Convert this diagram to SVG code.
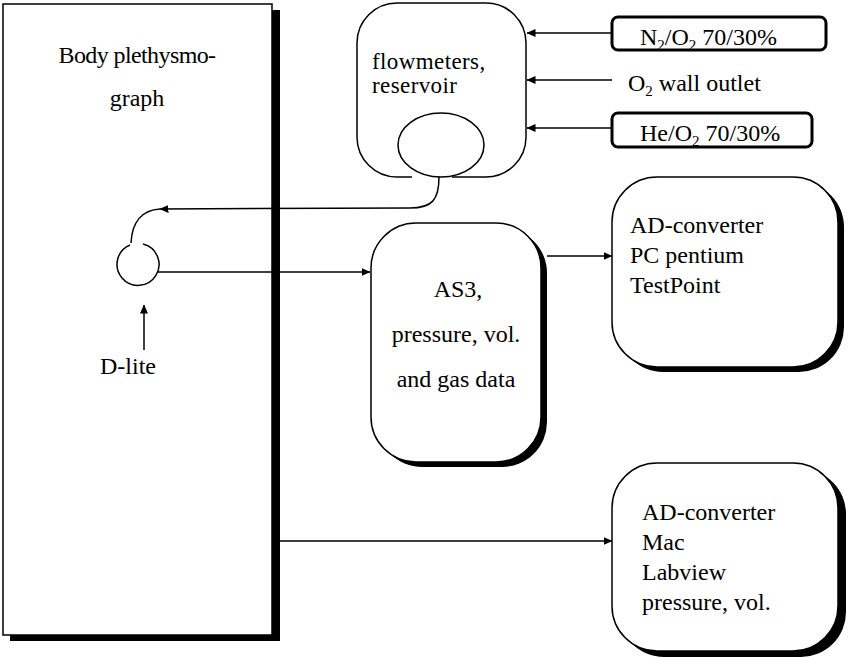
<svg xmlns="http://www.w3.org/2000/svg" width="850" height="658" viewBox="0 0 850 658">
<style>
text{font-family:"Liberation Serif","Times New Roman",serif;font-size:24px;fill:#000}
.c{text-anchor:middle}
.box{fill:#fff;stroke:#000;stroke-width:1.5}
.sh{fill:#000;stroke:none}
.gas{fill:#fff;stroke:#000;stroke-width:3}
.ln{fill:none;stroke:#000;stroke-width:1.5}
.sub{font-size:15px}
.fm{font-size:23px}
</style>
<defs>
<marker id="ah" markerWidth="9" markerHeight="8" refX="8.5" refY="4" orient="auto" markerUnits="userSpaceOnUse">
<path d="M0,0 L9,4 L0,8 Z" fill="#000"/>
</marker>
</defs>
<rect width="850" height="658" fill="#fff"/>

<g id="body-plethysmograph">
<rect class="sh" x="10" y="10" width="270" height="631"/>
<rect class="box" x="3" y="4" width="269" height="631" stroke-width="1"/>
<text class="c" x="137" y="63" letter-spacing="-0.6">Body plethysmo-</text>
<text class="c" x="137" y="106">graph</text>
</g>

<g id="d-lite">
<path class="ln" d="M143,244 A21,21 0 1 1 130,245"/>
<text class="c" x="128" y="374">D-lite</text>
</g>

<g id="flowmeters">
<path class="ln" d="M412,177 L397,177 A40,40 0 0 1 357,137 L357,43 A40,40 0 0 1 397,3 L486,3 A40,40 0 0 1 526,43 L526,137 A40,40 0 0 1 486,177 L452,177"/>
<ellipse class="ln" cx="441" cy="145" rx="43" ry="32"/>
<text class="fm" x="372" y="69" letter-spacing="0.4">flowmeters,</text>
<text class="fm" x="372" y="93" letter-spacing="0.4">reservoir</text>
</g>

<g id="n2o2">
<rect class="gas" x="612" y="17" width="214" height="33" rx="6"/>
<text x="640" y="45">N<tspan class="sub" dy="5">2</tspan><tspan dy="-5">/O</tspan><tspan class="sub" dy="5">2</tspan><tspan dy="-5"> 70/30%</tspan></text>
</g>

<g id="o2-wall">
<text x="628" y="91">O<tspan class="sub" dy="5">2</tspan><tspan dy="-5"> wall outlet</tspan></text>
</g>

<g id="heo2">
<rect class="gas" x="612" y="113" width="200" height="34" rx="6"/>
<text x="640" y="141">He/O<tspan class="sub" dy="5">2</tspan><tspan dy="-5"> 70/30%</tspan></text>
</g>

<g id="as3">
<rect class="sh" x="377" y="228" width="170" height="239" rx="45"/>
<rect class="box" x="371" y="223" width="170" height="239" rx="45"/>
<text class="c" x="458" y="297">AS3,</text>
<text class="c" x="456" y="342">pressure, vol.</text>
<text class="c" x="456" y="387">and gas data</text>
</g>

<g id="pc">
<rect class="sh" x="618" y="182" width="226" height="190" rx="45"/>
<rect class="box" x="612" y="177" width="226" height="190" rx="45"/>
<text x="630" y="233">AD-converter</text>
<text x="630" y="263">PC pentium</text>
<text x="630" y="293">TestPoint</text>
</g>

<g id="mac">
<rect class="sh" x="619" y="469" width="227" height="188" rx="45"/>
<rect class="box" x="612" y="463" width="226" height="188" rx="45"/>
<text x="642" y="520">AD-converter</text>
<text x="642" y="550">Mac</text>
<text x="642" y="580">Labview</text>
<text x="642" y="610">pressure, vol.</text>
</g>

<g id="connectors">
<line class="ln" x1="612" y1="33" x2="527" y2="33" marker-end="url(#ah)"/>
<line class="ln" x1="612" y1="80" x2="527" y2="80" marker-end="url(#ah)"/>
<line class="ln" x1="612" y1="128" x2="527" y2="128" marker-end="url(#ah)"/>
<path class="ln" d="M439,177 C439,200 432,208 410,208 L160,209" marker-end="url(#ah)"/>
<path class="ln" d="M160,209 C142,210 132,222 131,243"/>
<line class="ln" x1="157" y1="272" x2="370" y2="272" marker-end="url(#ah)"/>
<line class="ln" x1="144" y1="350" x2="144" y2="305" marker-end="url(#ah)"/>
<line class="ln" x1="547" y1="256" x2="612" y2="256" marker-end="url(#ah)"/>
<line class="ln" x1="280" y1="541" x2="612" y2="541" marker-end="url(#ah)"/>
</g>
</svg>
